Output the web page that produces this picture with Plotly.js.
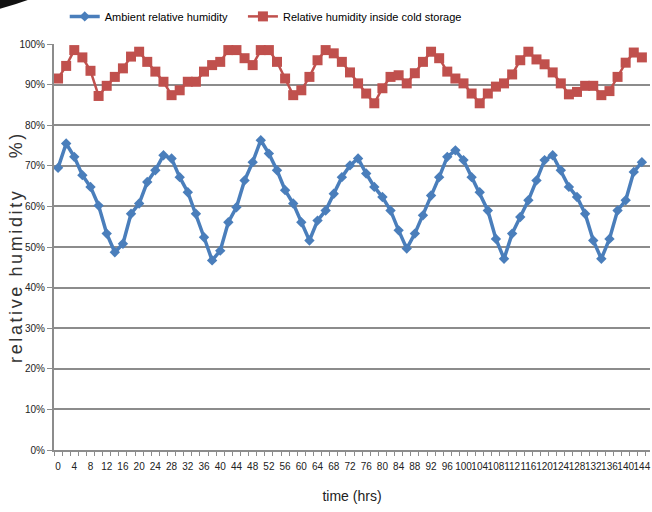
<!DOCTYPE html>
<html>
<head>
<meta charset="utf-8">
<script src="https://cdn.plot.ly/plotly-3.0.1.min.js"></script>
<style>
html,body{margin:0;padding:0;background:#fff;}
#chart{width:652px;height:512px;}
#chart .ytitle{letter-spacing:2.6px;translate:6px 0;}
</style>
</head>
<body>
<div id="chart"></div>
<script>
const hours = [0,2,4,6,8,10,12,14,16,18,20,22,24,26,28,30,32,34,36,38,40,42,44,46,48,50,52,54,56,58,60,62,64,66,68,70,72,74,76,78,80,82,84,86,88,90,92,94,96,98,100,102,104,106,108,110,112,114,116,118,120,122,124,126,128,130,132,134,136,138,140,142,144];
const ambientRH = [69.5,75.5,72.2,67.7,64.8,60.2,53.3,48.7,50.8,58.2,60.7,66,68.9,72.6,71.8,67.2,63.5,58.2,52.4,46.7,49.1,56.1,59.8,66.4,70.9,76.3,73,68.9,64,60.7,56.1,51.6,56.5,59,63.1,67.2,70.1,71.8,68.1,64.8,62.3,59,54.1,49.6,53.3,57.8,62.7,67.2,72.2,73.8,71.4,67.2,63.5,59,52,47.1,53.3,57.4,61.5,66.4,71.4,72.6,68.9,64.8,62.3,58.2,51.6,47.1,52,59,61.5,68.5,70.9];
const coldStorageRH = [91.5,94.6,98.5,96.7,93.4,87.2,89.7,91.9,94,96.9,98.1,95.6,93.2,90.7,87.4,88.6,90.7,90.7,93.2,94.8,95.6,98.5,98.5,96.5,94.8,98.5,98.5,95.6,91.5,87.4,88.6,91.9,96,98.5,97.7,95.6,93,90.3,87.8,85.4,89.1,91.9,92.3,90.3,92.8,95.6,98.1,96.5,93.2,91.5,90.3,87.8,85.4,87.8,89.5,90.3,92.5,96,98.1,96.2,95,93,90.3,87.6,88.2,89.7,89.7,87.4,88.4,91.9,95.4,97.9,96.7];
const xTickLabels = [0,4,8,12,16,20,24,28,32,36,40,44,48,52,56,60,64,68,72,76,80,84,88,92,96,100,104,108,112,116,120,124,128,132,136,140,144];
const yTickVals = [0,10,20,30,40,50,60,70,80,90,100];
const yTickText = ['0%','10%','20%','30%','40%','50%','60%','70%','80%','90%','100%'];

const sans = "'Liberation Sans', Arial, sans-serif";
const nb = '\u00A0';

const traces = [
  {
    x: hours, y: ambientRH, name: 'Ambient relative humidity', type: 'scatter', mode: 'lines+markers',
    line: {color: '#4a7ebb', width: 3.5},
    marker: {symbol: 'diamond', size: 8, color: '#4a7ebb'},
    legend: 'legend'
  },
  {
    x: hours, y: coldStorageRH, name: 'Relative humidity inside cold storage', type: 'scatter', mode: 'lines+markers',
    line: {color: '#c0504d', width: 2.5},
    marker: {symbol: 'square', size: 10, color: '#c0504d'},
    legend: 'legend2'
  }
];

const legendFont = {family: sans, size: 11, color: '#000'};

const layout = {
  width: 652, height: 512,
  margin: {l: 54, r: 2, t: 44, b: 62},
  paper_bgcolor: '#fff', plot_bgcolor: '#fff',
  showlegend: true,
  legend: {
    orientation: 'h', x: 0.018, xanchor: 'left', y: 1.068, yanchor: 'middle',
    font: legendFont, bgcolor: 'rgba(0,0,0,0)'
  },
  legend2: {
    orientation: 'h', x: 0.317, xanchor: 'left', y: 1.068, yanchor: 'middle',
    font: legendFont, bgcolor: 'rgba(0,0,0,0)'
  },
  xaxis: {
    range: [-1, 146], tickvals: xTickLabels, ticktext: xTickLabels.map(String),
    tickangle: 0, ticks: '', showgrid: false, zeroline: false,
    ticklabeloverflow: 'allow', ticklabelstandoff: 6,
    showline: true, linecolor: '#8c8c8c', linewidth: 2,
    tickfont: {family: sans, size: 10, color: '#222'},
    minor: {ticks: 'outside', tick0: -1, dtick: 2, ticklen: 4, tickcolor: '#8c8c8c', tickwidth: 1, showgrid: false},
    title: {text: 'time (hrs)', font: {family: sans, size: 14, color: '#222'}, standoff: 20},
    fixedrange: true
  },
  yaxis: {
    range: [0, 100], tickvals: yTickVals, ticktext: yTickText,
    ticks: 'outside', ticklen: 5, tickcolor: '#8c8c8c',
    showgrid: true, gridcolor: '#8c8c8c', gridwidth: 2,
    zeroline: false, showline: true, linecolor: '#8c8c8c', linewidth: 2,
    tickfont: {family: sans, size: 10, color: '#222'},
    title: {text: 'relative humidity' + nb + nb + nb + nb + '%)', font: {family: sans, size: 18, color: '#333'}, standoff: 0},
    fixedrange: true
  },
  shapes: [
    {type: 'path', xref: 'paper', yref: 'paper', line: {width: 0}, fillcolor: '#111',
     path: 'M -0.0906,1.1084 L -0.044,1.1084 Q -0.065,1.097 -0.0906,1.087 Z'}
  ]
};

Plotly.newPlot('chart', traces, layout, {displayModeBar: false, staticPlot: true});
</script>
</body>
</html>
